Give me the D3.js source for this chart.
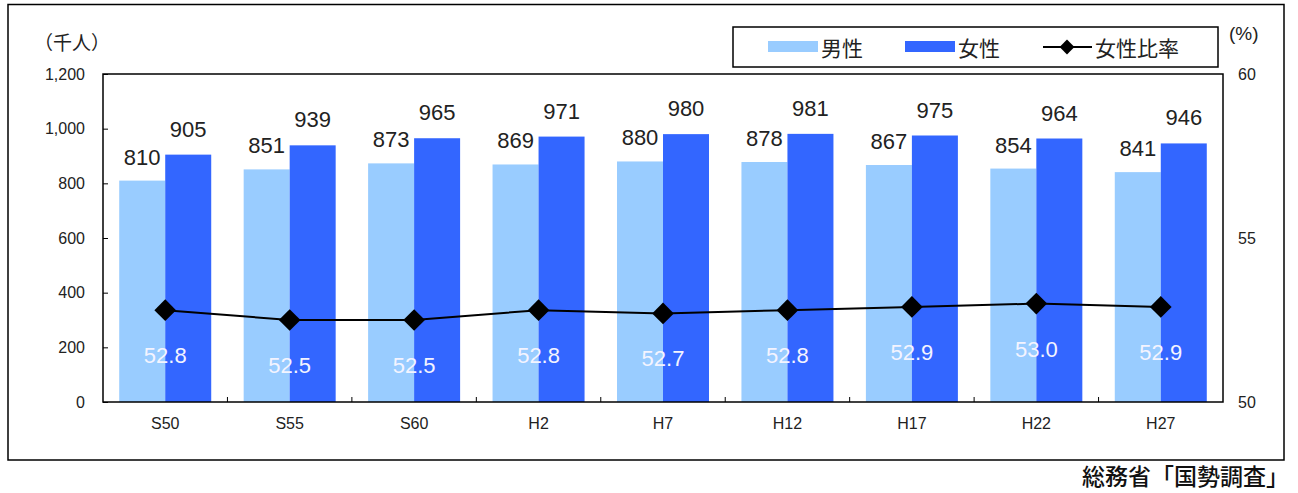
<!DOCTYPE html>
<html>
<head>
<meta charset="utf-8">
<script src="https://cdn.jsdelivr.net/npm/d3@7"></script>
<style>
  body { margin: 0; background: #fff; }
  text { font-family: "Liberation Sans", Arial, "Noto Sans CJK JP", sans-serif; }
  .jp { font-family: "Noto Sans CJK JP", sans-serif; }
</style>
</head>
<body>
<svg id="chart" width="1298" height="493"></svg>
<script>
// data
const years = ["S50", "S55", "S60", "H2", "H7", "H12", "H17", "H22", "H27"];
const male = [810, 851, 873, 869, 880, 878, 867, 854, 841];
const female = [905, 939, 965, 971, 980, 981, 975, 964, 946];
const ratio = [52.8, 52.5, 52.5, 52.8, 52.7, 52.8, 52.9, 53.0, 52.9];
const leftTicks = [0, 200, 400, 600, 800, 1000, 1200];
const rightTicks = [50, 55, 60];

const lightBlue = "#99ccff", darkBlue = "#3366ff";
const svg = d3.select("#chart");
const m = {left: 103, right: 1223, top: 74, bottom: 402};

// outer frame
svg.append("rect").attr("x", 8).attr("y", 4.5).attr("width", 1276).attr("height", 455.5)
  .attr("fill", "none").attr("stroke", "#000").attr("stroke-width", 1.5);

const x = d3.scaleBand().domain(years).range([m.left, m.right]);
const y = d3.scaleLinear().domain([0, 1200]).range([m.bottom, m.top]);
const y2 = d3.scaleLinear().domain([50, 60]).range([m.bottom, m.top]);
const barW = 46;

// bars
const g = svg.append("g");
g.selectAll(".male").data(years).join("rect")
  .attr("x", d => x(d) + x.bandwidth() / 2 - barW)
  .attr("y", (d, i) => y(male[i]))
  .attr("width", barW)
  .attr("height", (d, i) => y(0) - y(male[i]))
  .attr("fill", lightBlue);
g.selectAll(".female").data(years).join("rect")
  .attr("x", d => x(d) + x.bandwidth() / 2)
  .attr("y", (d, i) => y(female[i]))
  .attr("width", barW)
  .attr("height", (d, i) => y(0) - y(female[i]))
  .attr("fill", darkBlue);

// plot frame
svg.append("rect").attr("x", m.left).attr("y", m.top)
  .attr("width", m.right - m.left).attr("height", m.bottom - m.top)
  .attr("fill", "none").attr("stroke", "#000").attr("stroke-width", 1.5);

// left axis
const yAxis = d3.axisLeft(y).tickValues(leftTicks).tickSize(-5).tickPadding(18)
  .tickFormat(d3.format(","));
const ya = svg.append("g").attr("transform", `translate(${m.left},0)`).call(yAxis);
ya.select(".domain").remove();
ya.selectAll("text").attr("font-size", 16).attr("fill", "#222");

// right axis
const y2Axis = d3.axisRight(y2).tickValues(rightTicks).tickSize(0).tickPadding(15);
const ya2 = svg.append("g").attr("transform", `translate(${m.right},0)`).call(y2Axis);
ya2.select(".domain").remove();
ya2.selectAll("text").attr("font-size", 16).attr("fill", "#222");

// x axis
const xAxis = d3.axisBottom(x).tickSize(0).tickPadding(16);
const xa = svg.append("g").attr("transform", `translate(0,${m.bottom})`).call(xAxis);
xa.select(".domain").remove();
xa.selectAll("text").attr("font-size", 16).attr("fill", "#222");
svg.append("g").selectAll("line").data(years.slice(1)).join("line")
  .attr("x1", d => x(d)).attr("x2", d => x(d))
  .attr("y1", m.bottom).attr("y2", m.bottom - 5)
  .attr("stroke", "#000");

// value labels
g.selectAll(".mlab").data(years).join("text")
  .attr("x", d => x(d) + x.bandwidth() / 2 - barW / 2)
  .attr("y", (d, i) => y(male[i]) - 16)
  .attr("text-anchor", "middle").attr("font-size", 22).attr("fill", "#222")
  .text((d, i) => male[i]);
g.selectAll(".flab").data(years).join("text")
  .attr("x", d => x(d) + x.bandwidth() / 2 + barW / 2)
  .attr("y", (d, i) => y(female[i]) - 18)
  .attr("text-anchor", "middle").attr("font-size", 22).attr("fill", "#222")
  .text((d, i) => female[i]);

// ratio line
const cx = d => x(d) + x.bandwidth() / 2;
const line = d3.line().x(d => cx(d)).y((d, i) => y2(ratio[i]));
svg.append("path").datum(years).attr("d", line)
  .attr("fill", "none").attr("stroke", "#000").attr("stroke-width", 2);
const diamond = d3.symbol().type(d3.symbolSquare).size(235);
svg.selectAll(".pt").data(years).join("path")
  .attr("d", diamond)
  .attr("transform", (d, i) => `translate(${cx(d)},${y2(ratio[i])}) rotate(45)`)
  .attr("fill", "#000");
svg.selectAll(".rlab").data(years).join("text")
  .attr("x", d => cx(d))
  .attr("y", (d, i) => y2(ratio[i]) + 53)
  .attr("text-anchor", "middle").attr("font-size", 22).attr("fill", "#f4f4ff")
  .text((d, i) => ratio[i].toFixed(1));

// units
svg.append("text").attr("class", "jp").attr("x", 34).attr("y", 50)
  .attr("font-size", 19).attr("fill", "#222").text("（千人）");
svg.append("text").attr("x", 1229).attr("y", 40)
  .attr("font-size", 19).attr("fill", "#222").text("(%)");

// legend
const lg = svg.append("g");
lg.append("rect").attr("x", 733).attr("y", 27).attr("width", 485).attr("height", 40)
  .attr("fill", "#fff").attr("stroke", "#000").attr("stroke-width", 1.5);
lg.append("rect").attr("x", 768).attr("y", 41).attr("width", 50).attr("height", 11).attr("fill", lightBlue);
lg.append("text").attr("class", "jp").attr("x", 821).attr("y", 56).attr("font-size", 21).attr("fill", "#222").text("男性");
lg.append("rect").attr("x", 905).attr("y", 41).attr("width", 50).attr("height", 11).attr("fill", darkBlue);
lg.append("text").attr("class", "jp").attr("x", 958).attr("y", 56).attr("font-size", 21).attr("fill", "#222").text("女性");
lg.append("line").attr("x1", 1043).attr("x2", 1092).attr("y1", 47).attr("y2", 47)
  .attr("stroke", "#000").attr("stroke-width", 2);
lg.append("path").attr("d", d3.symbol().type(d3.symbolSquare).size(110))
  .attr("transform", "translate(1067,47) rotate(45)").attr("fill", "#000");
lg.append("text").attr("class", "jp").attr("x", 1095).attr("y", 56).attr("font-size", 21).attr("fill", "#222").text("女性比率");

// source
svg.append("text").attr("class", "jp").attr("x", 1289).attr("y", 485)
  .attr("text-anchor", "end").attr("font-size", 23).attr("font-weight", 500)
  .attr("fill", "#111").text("総務省「国勢調査」");
</script>
</body>
</html>
